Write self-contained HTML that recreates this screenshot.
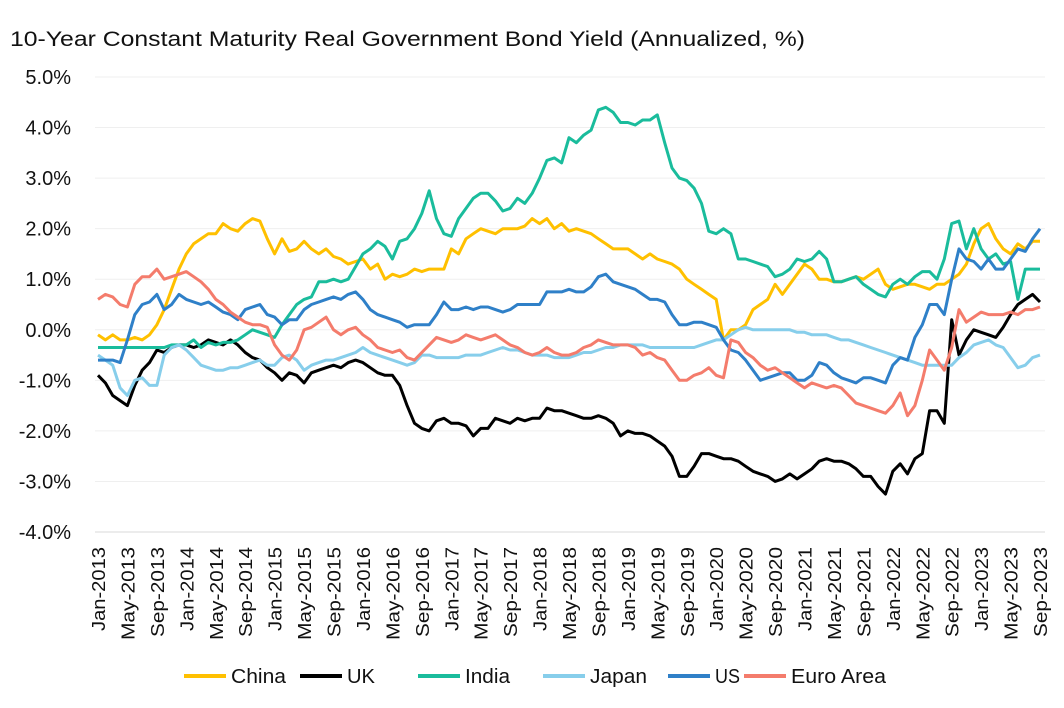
<!DOCTYPE html>
<html><head><meta charset="utf-8"><style>
body{margin:0;background:#fff;font-family:"Liberation Sans",sans-serif;}
svg{display:block}
</style></head><body>
<svg id="chart" width="1064" height="708">
<text x="10" y="46" font-size="21" fill="#111" textLength="795" lengthAdjust="spacingAndGlyphs">10-Year Constant Maturity Real Government Bond Yield (Annualized, %)</text>
</svg>
<script>
const yTicks=[5,4,3,2,1,0,-1,-2,-3,-4];
const years=[2013,2014,2015,2016,2017,2018,2019,2020,2021,2022,2023];
const monthNames=["Jan","Feb","Mar","Apr","May","Jun","Jul","Aug","Sep","Oct","Nov","Dec"];
const seriesNames=["China","UK","India","Japan","US","Euro Area"];
const seriesColors=["#FFC000","#000000","#1ABC9C","#87CEEB","#2F80C8","#F47C6C"];
const china=[-0.1,-0.2,-0.1,-0.2,-0.2,-0.15,-0.2,-0.1,0.1,0.4,0.8,1.2,
1.5,1.7,1.8,1.9,1.9,2.1,2.0,1.95,2.1,2.2,2.15,1.8,
1.5,1.8,1.55,1.6,1.75,1.6,1.5,1.6,1.45,1.4,1.3,1.35,
1.4,1.2,1.3,1.0,1.1,1.05,1.1,1.2,1.15,1.2,1.2,1.2,
1.6,1.5,1.8,1.9,2.0,1.95,1.9,2.0,2.0,2.0,2.05,2.2,
2.1,2.2,2.0,2.1,1.95,2.0,1.95,1.9,1.8,1.7,1.6,1.6,
1.6,1.5,1.4,1.5,1.4,1.35,1.3,1.2,1.0,0.9,0.8,0.7,
0.6,-0.2,0.0,0.0,0.1,0.4,0.5,0.6,0.9,0.7,0.9,1.1,
1.3,1.2,1.0,1.0,0.95,0.95,1.0,1.05,1.0,1.1,1.2,0.9,
0.8,0.85,0.9,0.9,0.85,0.8,0.9,0.9,1.0,1.1,1.3,1.7,
2.0,2.1,1.8,1.6,1.5,1.7,1.6,1.75,1.75];
const uk=[-0.9,-1.05,-1.3,-1.4,-1.5,-1.1,-0.8,-0.65,-0.4,-0.45,-0.35,-0.3,
-0.3,-0.35,-0.3,-0.2,-0.25,-0.3,-0.2,-0.3,-0.45,-0.55,-0.6,-0.75,
-0.85,-1.0,-0.85,-0.9,-1.05,-0.85,-0.8,-0.75,-0.7,-0.75,-0.65,-0.6,
-0.65,-0.75,-0.85,-0.9,-0.9,-1.1,-1.5,-1.85,-1.95,-2.0,-1.8,-1.75,
-1.85,-1.85,-1.9,-2.1,-1.95,-1.95,-1.75,-1.8,-1.85,-1.75,-1.8,-1.75,
-1.75,-1.55,-1.6,-1.6,-1.65,-1.7,-1.75,-1.75,-1.7,-1.75,-1.85,-2.1,
-2.0,-2.05,-2.05,-2.1,-2.2,-2.3,-2.5,-2.9,-2.9,-2.7,-2.45,-2.45,
-2.5,-2.55,-2.55,-2.6,-2.7,-2.8,-2.85,-2.9,-3.0,-2.95,-2.85,-2.95,
-2.85,-2.75,-2.6,-2.55,-2.6,-2.6,-2.65,-2.75,-2.9,-2.9,-3.1,-3.25,
-2.8,-2.65,-2.85,-2.55,-2.45,-1.6,-1.6,-1.85,0.2,-0.5,-0.2,0.0,
-0.05,-0.1,-0.15,0.05,0.3,0.5,0.6,0.7,0.55];
const india=[-0.35,-0.35,-0.35,-0.35,-0.35,-0.35,-0.35,-0.35,-0.35,-0.35,-0.3,-0.3,
-0.3,-0.2,-0.35,-0.25,-0.3,-0.25,-0.25,-0.2,-0.1,0.0,-0.05,-0.1,
-0.15,0.1,0.3,0.5,0.6,0.65,0.95,0.95,1.0,0.95,1.0,1.25,
1.5,1.6,1.75,1.65,1.4,1.75,1.8,2.0,2.3,2.75,2.2,1.9,
1.85,2.2,2.4,2.6,2.7,2.7,2.55,2.35,2.4,2.6,2.5,2.7,
3.0,3.35,3.4,3.3,3.8,3.7,3.85,3.95,4.35,4.4,4.3,4.1,
4.1,4.05,4.15,4.15,4.25,3.7,3.2,3.0,2.95,2.8,2.5,1.95,
1.9,2.0,1.9,1.4,1.4,1.35,1.3,1.25,1.05,1.1,1.2,1.4,
1.35,1.4,1.55,1.4,0.95,0.95,1.0,1.05,0.9,0.8,0.7,0.65,
0.9,1.0,0.9,1.05,1.15,1.15,1.0,1.4,2.1,2.15,1.6,2.0,
1.6,1.4,1.5,1.3,1.35,0.6,1.2,1.2,1.2];
const japan=[-0.5,-0.6,-0.7,-1.15,-1.3,-1.0,-0.95,-1.1,-1.1,-0.5,-0.35,-0.3,
-0.4,-0.55,-0.7,-0.75,-0.8,-0.8,-0.75,-0.75,-0.7,-0.65,-0.6,-0.7,
-0.7,-0.55,-0.5,-0.6,-0.8,-0.7,-0.65,-0.6,-0.6,-0.55,-0.5,-0.45,
-0.35,-0.45,-0.5,-0.55,-0.6,-0.65,-0.7,-0.65,-0.5,-0.5,-0.55,-0.55,
-0.55,-0.55,-0.5,-0.5,-0.5,-0.45,-0.4,-0.35,-0.4,-0.4,-0.45,-0.5,
-0.5,-0.5,-0.55,-0.55,-0.55,-0.5,-0.45,-0.45,-0.4,-0.35,-0.35,-0.3,
-0.3,-0.3,-0.3,-0.35,-0.35,-0.35,-0.35,-0.35,-0.35,-0.35,-0.3,-0.25,
-0.2,-0.2,-0.1,0.0,0.05,0.0,0.0,0.0,0.0,0.0,0.0,-0.05,
-0.05,-0.1,-0.1,-0.1,-0.15,-0.2,-0.2,-0.25,-0.3,-0.35,-0.4,-0.45,
-0.5,-0.55,-0.6,-0.65,-0.7,-0.7,-0.7,-0.7,-0.7,-0.55,-0.45,-0.3,
-0.25,-0.2,-0.3,-0.35,-0.55,-0.75,-0.7,-0.55,-0.5];
const us=[-0.6,-0.6,-0.6,-0.65,-0.2,0.3,0.5,0.55,0.7,0.4,0.5,0.7,
0.6,0.55,0.5,0.55,0.45,0.35,0.3,0.2,0.4,0.45,0.5,0.3,
0.25,0.1,0.2,0.2,0.4,0.5,0.55,0.6,0.65,0.6,0.7,0.75,
0.6,0.4,0.3,0.25,0.2,0.15,0.05,0.1,0.1,0.1,0.3,0.55,
0.4,0.4,0.45,0.4,0.45,0.45,0.4,0.35,0.4,0.5,0.5,0.5,
0.5,0.75,0.75,0.75,0.8,0.75,0.75,0.85,1.05,1.1,0.95,0.9,
0.85,0.8,0.7,0.6,0.6,0.55,0.3,0.1,0.1,0.15,0.15,0.1,
0.05,-0.2,-0.4,-0.45,-0.6,-0.8,-1.0,-0.95,-0.9,-0.85,-0.85,-1.0,
-1.0,-0.9,-0.65,-0.7,-0.85,-0.95,-1.0,-1.05,-0.95,-0.95,-1.0,-1.05,
-0.7,-0.55,-0.6,-0.15,0.1,0.5,0.5,0.3,1.0,1.6,1.4,1.35,
1.2,1.4,1.2,1.2,1.4,1.6,1.55,1.8,2.0];
const euro=[0.6,0.7,0.65,0.5,0.45,0.9,1.05,1.05,1.2,1.0,1.05,1.1,
1.15,1.05,0.95,0.8,0.6,0.5,0.35,0.25,0.15,0.1,0.1,0.05,
-0.3,-0.5,-0.6,-0.4,0.0,0.05,0.15,0.25,0.0,-0.1,0.0,0.05,
-0.1,-0.2,-0.35,-0.4,-0.45,-0.4,-0.55,-0.6,-0.45,-0.3,-0.15,-0.2,
-0.25,-0.2,-0.1,-0.15,-0.2,-0.15,-0.1,-0.2,-0.3,-0.35,-0.45,-0.5,
-0.45,-0.35,-0.45,-0.5,-0.5,-0.45,-0.35,-0.3,-0.2,-0.25,-0.3,-0.3,
-0.3,-0.35,-0.5,-0.45,-0.55,-0.6,-0.8,-1.0,-1.0,-0.9,-0.85,-0.75,
-0.9,-0.95,-0.2,-0.25,-0.45,-0.55,-0.7,-0.8,-0.75,-0.85,-0.95,-1.05,
-1.15,-1.05,-1.1,-1.15,-1.1,-1.15,-1.3,-1.45,-1.5,-1.55,-1.6,-1.65,
-1.5,-1.25,-1.7,-1.5,-1.0,-0.4,-0.6,-0.8,-0.35,0.4,0.15,0.25,
0.35,0.3,0.3,0.3,0.35,0.3,0.4,0.4,0.45];
const seriesData=[china,uk,india,japan,us,euro];

const NS="http://www.w3.org/2000/svg";
const svg=document.getElementById('chart');
const x0=98,x1=1040,yTop=77,yBot=532;
const nPts=china.length;
function xs(i){return x0+(x1-x0)*i/(nPts-1);}
function ys(v){return yTop+(5-v)*(yBot-yTop)/9;}
function mk(tag,attrs){const e=document.createElementNS(NS,tag);for(const k in attrs)e.setAttribute(k,attrs[k]);svg.appendChild(e);return e;}

yTicks.forEach(t=>{
  const g=mk('line',{x1:95,x2:1045,y1:ys(t),y2:ys(t),stroke:t===-4?'#d9d9d9':'#efefef','stroke-width':1});
  
  
  const l=mk('text',{x:71,y:ys(t)+7,'text-anchor':'end','font-size':20,fill:'#111'});
  l.textContent=t.toFixed(1)+'%';
  
  
});
for(let i=0;i<nPts;i+=4){
  const yr=years[Math.floor(i/12)],m=monthNames[i%12];
  const x=xs(i);
  const lab=m+'-'+yr;
  const len=m==='May'?93:(m==='Sep'?90:84);
  const l=mk('text',{x:0,y:0,'text-anchor':'end','font-size':18,fill:'#111',textLength:len,lengthAdjust:'spacingAndGlyphs',transform:`translate(${x+7},547) rotate(-90)`});
  l.textContent=lab;
  
  
}
seriesData.forEach((d,s)=>{
  const p=d.map((v,i)=>(i?'L':'M')+xs(i).toFixed(1)+','+ys(v).toFixed(1)).join('');
  const path=mk('path',{d:p,fill:'none',stroke:seriesColors[s],'stroke-width':3,'stroke-linejoin':'round'});
  
  
});
const legX=[184,300,418,543,668,744];
const legLen=[55,28,45,57,25,95];
seriesNames.forEach((n,s)=>{
  const ln=mk('line',{x1:legX[s],x2:legX[s]+42,y1:676,y2:676,stroke:seriesColors[s],'stroke-width':4});
  
  
  const t=mk('text',{x:legX[s]+47,y:683,'font-size':20,fill:'#111',textLength:legLen[s],lengthAdjust:'spacingAndGlyphs'});
  t.textContent=n;
  
  
});
</script>
</body></html>
